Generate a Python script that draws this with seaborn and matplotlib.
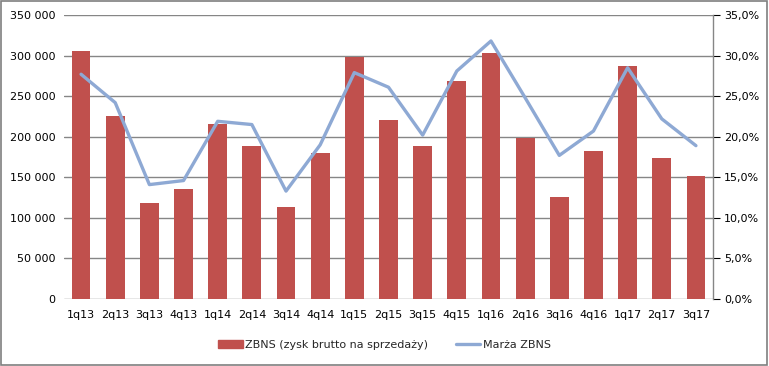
import matplotlib
matplotlib.use('Agg')
import matplotlib.ticker as mticker
from matplotlib import pyplot as plt
from matplotlib.patches import Rectangle
from matplotlib.lines import Line2D
import seaborn as sns
import pandas as pd

# data
quarters = ['1q13', '2q13', '3q13', '4q13', '1q14', '2q14', '3q14', '4q14',
            '1q15', '2q15', '3q15', '4q15', '1q16', '2q16', '3q16', '4q16',
            '1q17', '2q17', '3q17']
zbns = [305600, 225500, 118300, 135600, 215700, 188600, 113400, 179900,
        298200, 220600, 188600, 268700, 303200, 198400, 125700, 182400,
        287100, 173800, 151600]
marza = [27.7, 24.2, 14.1, 14.6, 21.9, 21.5, 13.3, 19.0,
         27.9, 26.1, 20.2, 28.1, 31.8, 24.8, 17.7, 20.7,
         28.5, 22.2, 18.9]

bar_label = 'ZBNS (zysk brutto na sprzedaży)'
line_label = 'Marża ZBNS'

df = pd.DataFrame({'kwartal': quarters, 'zbns': zbns, 'marza': marza})

sns.set_style('white')
plt.rcParams['font.family'] = ['DejaVu Sans']

bar_color = '#C0504D'
line_color = '#8EA9D4'
grid_color = '#868686'

fig = plt.figure(figsize=(7.69, 3.66), dpi=100)
ax = fig.add_axes([0.0832, 0.183, 0.8440, 0.776])

sns.barplot(data=df, x='kwartal', y='zbns', color=bar_color, width=0.55,
            saturation=1, linewidth=0, ax=ax)
ax.set_ylim(0, 350000)
ax.yaxis.set_major_locator(mticker.MultipleLocator(50000))
ax.yaxis.set_major_formatter(mticker.FuncFormatter(
    lambda v, p: '{:,.0f}'.format(v).replace(',', ' ')))
ax.set_xlabel('')
ax.set_ylabel('')
ax.set_xlim(-0.5, len(quarters) - 0.5)
ax.grid(True, axis='y', color=grid_color, linewidth=1)
ax.set_axisbelow(True)
for s in ['left', 'top', 'right', 'bottom']:
    ax.spines[s].set_visible(False)
ax.tick_params(axis='both', length=0, labelsize=8, colors='black', pad=6)
ax.tick_params(axis='x', pad=8)

ax2 = ax.twinx()
sns.lineplot(data=df, x='kwartal', y='marza', color=line_color, linewidth=2.4,
             ax=ax2, sort=False)
ax2.set_ylim(0, 35)
ax2.set_xlim(-0.5, len(quarters) - 0.5)
ax2.yaxis.set_major_locator(mticker.MultipleLocator(5))
ax2.yaxis.set_major_formatter(mticker.FuncFormatter(
    lambda v, p: '{:.1f}%'.format(v).replace('.', ',')))
ax2.set_ylabel('')
for s in ['left', 'top', 'bottom']:
    ax2.spines[s].set_visible(False)
ax2.spines['right'].set_color(grid_color)
ax2.spines['right'].set_linewidth(1)
ax2.tick_params(axis='y', length=5, color=grid_color, labelsize=8,
                colors='black', pad=3)
ax2.tick_params(axis='y', colors='black')

handles = [Rectangle((0, 0), 1, 1, color=bar_color),
           Line2D([0], [0], color=line_color, linewidth=2.4)]
fig.legend(handles, [bar_label, line_label], loc='center', ncol=2,
           bbox_to_anchor=(0.5, 0.057), frameon=False, fontsize=8,
           handlelength=2.2, handletextpad=0.2, columnspacing=2.5)

fig.patches.append(Rectangle((0.001, 0.002), 0.997, 0.995, transform=fig.transFigure,
                             fill=False, edgecolor='#7f7f7f', linewidth=1.2))

fig.savefig('out.png', dpi=100)
